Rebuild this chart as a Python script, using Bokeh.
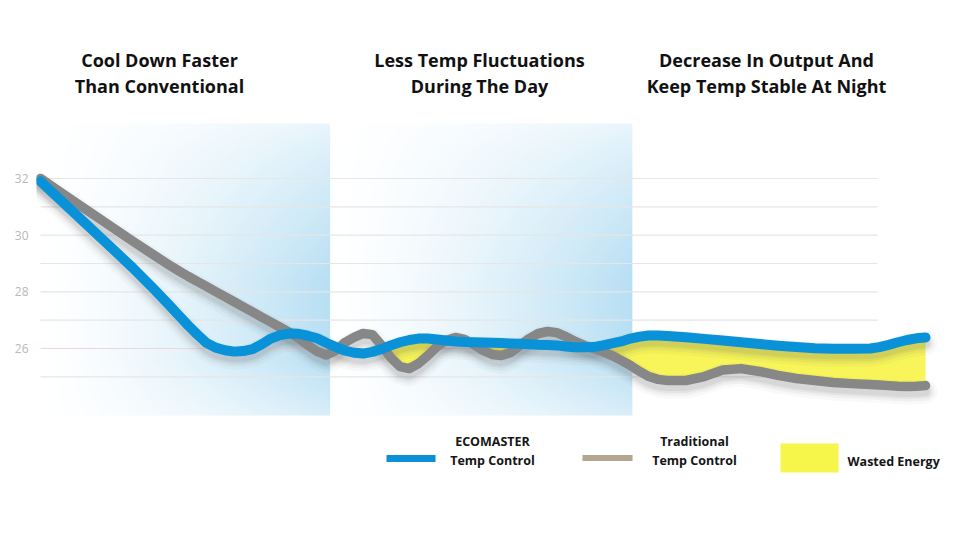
import numpy as np
from bokeh.plotting import figure
from bokeh.models import Range1d, FixedTicker, Label
from bokeh.embed import file_html
from bokeh.resources import INLINE

# ---------------- data ----------------
hours = [0, 0.5, 1, 1.5, 2, 2.5, 3, 3.5, 3.75, 4, 4.25, 4.5, 4.75, 5, 5.25, 5.5, 5.75,
         6, 6.25, 6.5, 6.75, 7, 7.25, 7.5, 7.75, 8, 8.25, 8.5, 8.75, 9, 9.25, 9.5, 9.75,
         10, 10.25, 10.5, 10.75, 11, 11.25, 11.5, 11.75, 12, 12.25, 12.5, 12.75, 13, 13.25,
         13.5, 13.75, 14, 14.25, 14.5, 14.75, 15, 15.25, 15.5, 15.75, 16, 16.25, 16.5, 16.75,
         17, 17.5, 18, 18.5, 19, 19.5, 20, 20.5, 21, 21.5, 22, 22.5, 22.75, 23, 23.25, 23.5,
         23.75, 24]

ecomaster = [31.9, 31.29, 30.68, 30.07, 29.46, 28.85, 28.2, 27.52, 27.17, 26.82, 26.5, 26.2,
             26.03, 25.94, 25.89, 25.91, 25.98, 26.15, 26.35, 26.47, 26.53, 26.52, 26.45, 26.36,
             26.2, 26.06, 25.93, 25.85, 25.82, 25.88, 25.98, 26.11, 26.22, 26.3, 26.35, 26.35,
             26.32, 26.28, 26.25, 26.23, 26.22, 26.21, 26.2, 26.19, 26.18, 26.17, 26.15, 26.13,
             26.12, 26.11, 26.07, 26.04, 26.04, 26.05, 26.11, 26.18, 26.25, 26.35, 26.42, 26.46,
             26.46, 26.44, 26.4, 26.34, 26.28, 26.22, 26.16, 26.1, 26.05, 26.01, 25.99, 25.99,
             26.0, 26.05, 26.13, 26.22, 26.3, 26.36, 26.39]

traditional = [32.0, 31.55, 31.11, 30.67, 30.23, 29.79, 29.36, 28.94, 28.74, 28.55, 28.37, 28.19,
               28.01, 27.83, 27.65, 27.47, 27.29, 27.11, 26.93, 26.75, 26.57, 26.36, 26.12, 25.9,
               25.77, 25.92, 26.21, 26.39, 26.53, 26.49, 26.11, 25.68, 25.36, 25.29, 25.47, 25.75,
               26.07, 26.28, 26.39, 26.32, 26.14, 25.93, 25.79, 25.75, 25.86, 26.11, 26.35, 26.53,
               26.6, 26.56, 26.42, 26.25, 26.11, 26.0, 25.89, 25.75, 25.58, 25.4, 25.19, 25.01,
               24.91, 24.87, 24.87, 25.01, 25.24, 25.29, 25.19, 25.05, 24.94, 24.87, 24.8, 24.76,
               24.73, 24.71, 24.69, 24.67, 24.66, 24.67, 24.69]

section_edges = [0, 7.86, 16.05]          # day periods highlighted in blue
grid_levels = [25, 26, 27, 28, 29, 30, 31, 32]
tick_values = [26, 28, 30, 32]
titles = [("Cool Down Faster", "Than Conventional"),
          ("Less Temp Fluctuations", "During The Day"),
          ("Decrease In Output And", "Keep Temp Stable At Night")]
legend_labels = [("ECOMASTER", "Temp Control"), ("Traditional", "Temp Control"), ("Wasted Energy",)]

# ---------------- layout helpers (pixel -> data) ----------------
W, H, LEFT = 960, 540, 36
PX_PER_H, X0PX = 36.875, 40.0
PX_PER_T, Y32PX = 170.0 / 6.0, 178.0


def hx(px):
    return (px - X0PX) / PX_PER_H


def ty(py):
    return 32.0 - (py - Y32PX) / PX_PER_T


p = figure(width=W, height=H, output_backend="svg", toolbar_location=None,
           x_range=Range1d(hx(LEFT), hx(W)), y_range=Range1d(ty(H), ty(0)),
           x_axis_location=None, min_border_left=LEFT, min_border_right=0,
           min_border_top=0, min_border_bottom=0)
p.outline_line_color = None
p.background_fill_color = "white"
p.border_fill_color = "white"
p.xgrid.grid_line_color = None
p.ygrid.grid_line_color = None
p.yaxis.ticker = FixedTicker(ticks=tick_values)
p.yaxis.axis_line_color = None
p.yaxis.major_tick_line_color = None
p.yaxis.minor_tick_line_color = None
p.yaxis.major_label_standoff = 2
p.yaxis.major_label_text_color = "#b8b8b8"
p.yaxis.major_label_text_font = "Open Sans"
p.yaxis.major_label_text_font_size = "12px"

# ---------------- gradient bands ----------------
band_top, band_bottom = ty(123), ty(415)
nx, ny = 240, 160
fx = np.linspace(0, 1, nx)
ax = 0.44 * fx ** 1.4
pys = np.linspace(415, 123, ny)
ay = np.where(pys < 280, 0.3 + 0.7 * np.clip((pys - 123) / 157, 0, 1) ** 0.8,
              np.where(pys <= 360, 1.0, 1.0 - 0.45 * (pys - 360) / 55))
alpha = ay[:, None] * ax[None, :]
base = np.array([93, 182, 228])
img = np.empty((ny, nx), dtype=np.uint32)
view = img.view(dtype=np.uint8).reshape((ny, nx, 4))
for k in range(3):
    view[:, :, k] = np.round(255 - alpha * (255 - base[k])).astype(np.uint8)
view[:, :, 3] = 255
for i in range(2):
    p.image_rgba(image=[img], x=section_edges[i], y=band_bottom,
                 dw=section_edges[i + 1] - section_edges[i], dh=band_top - band_bottom)

# ---------------- grid lines ----------------
grid_colors = ["#f1d3d9" if g == 26 else "#e6e6e6" for g in grid_levels]
p.segment(x0=[0] * len(grid_levels), y0=grid_levels, x1=[hx(877)] * len(grid_levels),
          y1=grid_levels, line_color=grid_colors, line_width=1.2)

# ---------------- wasted energy fill ----------------
h = np.array(hours)
b = np.array(ecomaster)
g = np.array(traditional)
m = h >= section_edges[1]
p.varea(x=h[m], y1=np.minimum(g[m], b[m]), y2=b[m], fill_color="#f7f450", fill_alpha=0.95)

# ---------------- soft shadows ----------------
off = 6.0 / PX_PER_T
for w, a in [(24, 0.035), (18, 0.055), (13, 0.08), (9, 0.09)]:
    p.line(h, g - off, line_color="#555555", line_alpha=a, line_width=w,
           line_cap="round", line_join="round")
    p.line(h, b - off, line_color="#555555", line_alpha=a, line_width=w,
           line_cap="round", line_join="round")

# ---------------- lines ----------------
p.line(h, g, line_color="#878787", line_width=9.5, line_cap="round", line_join="round")
p.line(h, b, line_color="#0a92d8", line_width=10, line_cap="round", line_join="round")

# ---------------- titles ----------------
title_cx = [159, 479, 766]
for (l1, l2), cx in zip(titles, title_cx):
    for txt, base_y in [(l1, 59.5), (l2, 85.5)]:
        p.add_layout(Label(x=hx(cx), y=ty(base_y), text=txt, text_align="center",
                           text_baseline="alphabetic", text_font="Open Sans",
                           text_font_style="bold", text_font_size="18px", text_color="#111111"))

# ---------------- legend ----------------
p.segment(x0=[hx(386)], y0=[ty(458)], x1=[hx(435)], y1=[ty(458)],
          line_color="#0b8fd6", line_width=7)
p.segment(x0=[hx(582)], y0=[ty(457.5)], x1=[hx(632)], y1=[ty(457.5)],
          line_color="#b3a88f", line_width=6)
p.quad(left=[hx(780)], right=[hx(838)], top=[ty(443)], bottom=[ty(472)],
       fill_color="#f6f54a", line_color=None)

leg_cx = [492, 694]
for (l1, l2), cx in zip(legend_labels[:2], leg_cx):
    for txt, base_y in [(l1, 441), (l2, 459.5)]:
        p.add_layout(Label(x=hx(cx), y=ty(base_y), text=txt, text_align="center",
                           text_baseline="alphabetic", text_font="Open Sans",
                           text_font_style="bold", text_font_size="12.5px", text_color="#151515"))
p.add_layout(Label(x=hx(847), y=ty(460.5), text=legend_labels[2][0], text_align="left",
                   text_baseline="alphabetic", text_font="Open Sans",
                   text_font_style="bold", text_font_size="12.5px", text_color="#151515"))

open("out.html", "w").write(file_html(p, INLINE))
